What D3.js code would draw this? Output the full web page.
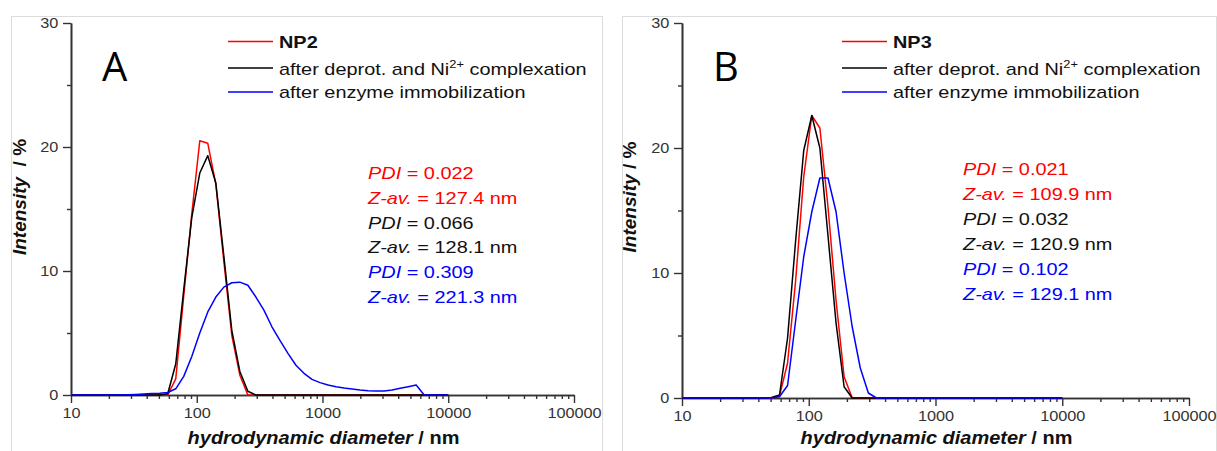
<!DOCTYPE html>
<html>
<head>
<meta charset="utf-8">
<script src="https://cdn.jsdelivr.net/npm/d3@7"></script>
<style>
  body { margin: 0; background: #fff; }
  svg { display: block; font-family: "Liberation Sans", Arial, sans-serif; }
</style>
</head>
<body>
<svg id="chart" width="1217" height="451"></svg>
<script>
// DLS size bins (nm)
var sizes = [10.1, 11.7, 13.54, 15.69, 18.17, 21.04, 24.36, 28.21, 32.67, 37.84, 43.82, 50.75,
  58.77, 68.06, 78.82, 91.28, 105.7, 122.4, 141.8, 164.2, 190.1, 220.2, 255.0, 295.3,
  342.0, 396.1, 458.7, 531.2, 615.1, 712.4, 825.0, 955.4, 1106, 1281, 1484, 1718,
  1990, 2305, 2669, 3091, 3580, 4145, 4801, 5560, 6439, 7456, 8635, 10000];

// panel A intensities (%)
var np2 = [0,0,0,0,0,0,0,0,0,0,0,0,
  0, 1.3, 8.0, 14.6, 20.5, 20.3, 17.0, 10.8, 4.8, 1.6, 0, 0,
  0,0,0,0,0,0,0,0,0,0,0,0, 0,0,0,0,0,0,0,0,0,0,0,0];
var np2Ni = [0,0,0,0,0,0,0,0,0,0,0,0,
  0.1, 2.5, 8.5, 14.3, 17.9, 19.3, 17.1, 11.2, 5.2, 1.9, 0.3, 0,
  0,0,0,0,0,0,0,0,0,0,0,0, 0,0,0,0,0,0,0,0,0,0,0,0];
var np2Enz = [0,0,0,0,0,0,0, 0.02, 0.05, 0.08, 0.12, 0.15,
  0.2, 0.5, 1.5, 3.1, 5.0, 6.7, 7.9, 8.7, 9.05, 9.1, 8.85, 7.9,
  6.85, 5.5, 4.4, 3.36, 2.4, 1.75, 1.26, 1.0, 0.8, 0.67, 0.56, 0.48,
  0.4, 0.35, 0.32, 0.32, 0.4, 0.54, 0.67, 0.8, 0, 0, 0, 0];

// panel B intensities (%)
var np3 = [0,0,0,0,0,0,0,0,0,0,0,0,
  0.15, 2.8, 9.4, 17.7, 22.6, 21.6, 15.3, 7.8, 1.7, 0, 0, 0,
  0,0,0,0,0,0,0,0,0,0,0,0, 0,0,0,0,0,0,0,0,0,0,0,0];
var np3Ni = [0,0,0,0,0,0,0,0,0,0,0, 0.05,
  0.24, 4.8, 12.6, 19.8, 22.6, 20.0, 13.0, 6.0, 0.9, 0, 0, 0,
  0,0,0,0,0,0,0,0,0,0,0,0, 0,0,0,0,0,0,0,0,0,0,0,0];
var np3Enz = [0,0,0,0,0,0,0,0,0,0,0,0,
  0.1, 1.0, 6.2, 11.3, 14.9, 17.6, 17.6, 14.9, 10.0, 5.7, 2.4, 0.4,
  0,0,0,0,0,0,0,0,0,0,0,0, 0,0,0,0,0,0,0,0,0,0,0,0];

var xMajor = [10, 100, 1000, 10000, 100000];
var yMajor = [0, 10, 20, 30];
var yMinor = [5, 15, 25];
var colors = ["#ff0000", "#000000", "#0000ff"];

var pdiA = ["0.022", "0.066", "0.309"];
var zavA = ["127.4", "128.1", "221.3"];
var pdiB = ["0.021", "0.032", "0.102"];
var zavB = ["109.9", "120.9", "129.1"];

var svg = d3.select("#chart");

// the original figure is a bit wider than tall, text included
var SX = 1.17;

function wideText(parent, x, y, sx) {
  return parent.append("text")
    .attr("transform", "translate(" + x + "," + y + ") scale(" + sx + ",1)");
}

function drawPanel(p) {
  var g = svg.append("g");

  // light frame
  g.append("rect")
    .attr("x", p.frame[0] + 0.5).attr("y", 16.5)
    .attr("width", p.frame[1] - p.frame[0]).attr("height", 460)
    .attr("fill", "none").attr("stroke", "#dcdcdc").attr("stroke-width", 1);

  var x = d3.scaleLog().domain([10, 100000]).range(p.xr);
  var y = d3.scaleLinear().domain([0, 30]).range(p.yr);

  var xMinor = x.ticks().filter(function(d) { return xMajor.indexOf(d) < 0; });

  function styleAxis(a) {
    a.select(".domain").attr("stroke", "#333").attr("stroke-width", 1.6);
    a.selectAll(".tick line").attr("stroke", "#333").attr("stroke-width", 1.4);
    a.selectAll("text").attr("fill", "#333").style("font-size", "15.5px")
      .style("font-family", "Liberation Sans, Arial, sans-serif")
      .attr("transform", "scale(1.05,1)");
  }

  var ax = g.append("g").attr("transform", "translate(0," + p.yr[0] + ")")
    .call(d3.axisBottom(x).tickValues(xMajor).tickFormat(d3.format("d"))
      .tickSize(8).tickSizeOuter(0).tickPadding(4));
  styleAxis(ax);
  var axm = g.append("g").attr("transform", "translate(0," + p.yr[0] + ")")
    .call(d3.axisBottom(x).tickValues(xMinor).tickFormat("").tickSize(4).tickSizeOuter(0));
  styleAxis(axm);

  var ay = g.append("g").attr("transform", "translate(" + p.xr[0] + ",0)")
    .call(d3.axisLeft(y).tickValues(yMajor).tickSize(8).tickSizeOuter(0).tickPadding(4));
  styleAxis(ay);
  var aym = g.append("g").attr("transform", "translate(" + p.xr[0] + ",0)")
    .call(d3.axisLeft(y).tickValues(yMinor).tickFormat("").tickSize(4).tickSizeOuter(0));
  styleAxis(aym);

  // axis titles
  var xt = wideText(g, (p.xr[0] + p.xr[1]) / 2 + 1, 444, 1.11)
    .attr("text-anchor", "middle")
    .style("font-size", "18px").style("font-weight", "bold").attr("fill", "#111");
  xt.append("tspan").style("font-style", "italic").text("hydrodynamic diameter");
  xt.append("tspan").text(" / nm");

  var yt = g.append("text")
    .attr("transform", "translate(" + p.ytX + ",197) rotate(-90)")
    .attr("text-anchor", "middle")
    .style("font-size", "19px").style("font-weight", "bold").attr("fill", "#111");
  yt.append("tspan").style("font-style", "italic").text("Intensity");
  yt.append("tspan").attr("xml:space", "preserve").text(p.ySep + "/ %");

  // panel letter
  g.append("text").attr("x", p.letterX).attr("y", 81)
    .style("font-family", "Open Sans, sans-serif").style("font-size", "40px")
    .attr("fill", "#000").text(p.letter);

  // curves
  var line = d3.line()
    .x(function(d) { return x(d[0]); })
    .y(function(d) { return y(d[1]); });

  p.series.forEach(function(vals, i) {
    g.append("path")
      .datum(sizes.map(function(s, k) { return [s, vals[k]]; }))
      .attr("d", line)
      .attr("fill", "none")
      .attr("stroke", colors[i])
      .attr("stroke-width", 1.5)
      .attr("stroke-linejoin", "round");
  });

  // legend
  var lx = p.legendX;
  var rows = [{ ly: 41.5, ty: 47.5 }, { ly: 68, ty: 75 }, { ly: 92, ty: 98 }];
  rows.forEach(function(r, i) {
    g.append("line").attr("x1", lx).attr("x2", lx + 45)
      .attr("y1", r.ly).attr("y2", r.ly)
      .attr("stroke", colors[i]).attr("stroke-width", 1.5);
  });
  wideText(g, lx + 51, rows[0].ty, SX)
    .style("font-size", "17px").style("font-weight", "bold").attr("fill", "#111")
    .text(p.name);
  var t1 = wideText(g, lx + 51, rows[1].ty, SX)
    .style("font-size", "17px").attr("fill", "#111");
  t1.append("tspan").text("after deprot. and Ni");
  t1.append("tspan").attr("dy", -7).style("font-size", "11px").text("2+");
  t1.append("tspan").attr("dy", 7).text(" complexation");
  wideText(g, lx + 51, rows[2].ty, SX)
    .style("font-size", "17px").attr("fill", "#111")
    .text("after enzyme immobilization");

  // PDI / Z-average annotations
  for (var i = 0; i < 3; i++) {
    var c = colors[i] === "#000000" ? "#111" : colors[i];
    var a = wideText(g, p.annX, p.annY + i * 2 * p.annStep, SX)
      .style("font-size", "17px").attr("fill", c);
    a.append("tspan").style("font-style", "italic").text("PDI");
    a.append("tspan").text(" = " + p.pdi[i]);
    var b = wideText(g, p.annX, p.annY + (i * 2 + 1) * p.annStep, SX)
      .style("font-size", "17px").attr("fill", c);
    b.append("tspan").style("font-style", "italic").text("Z-av.");
    b.append("tspan").text(" = " + p.zav[i] + " nm");
  }
}

drawPanel({
  frame: [11, 602], xr: [71, 574], yr: [395, 23], ytX: 26, ySep: "  ",
  letter: "A", letterX: 102, name: "NP2", legendX: 228,
  series: [np2, np2Ni, np2Enz],
  annX: 368, annY: 179, annStep: 24.8, pdi: pdiA, zav: zavA
});

drawPanel({
  frame: [622, 1216], xr: [682, 1189], yr: [398, 23], ytX: 636, ySep: " ",
  letter: "B", letterX: 713, name: "NP3", legendX: 842,
  series: [np3, np3Ni, np3Enz],
  annX: 963, annY: 175, annStep: 25, pdi: pdiB, zav: zavB
});
</script>
</body>
</html>
